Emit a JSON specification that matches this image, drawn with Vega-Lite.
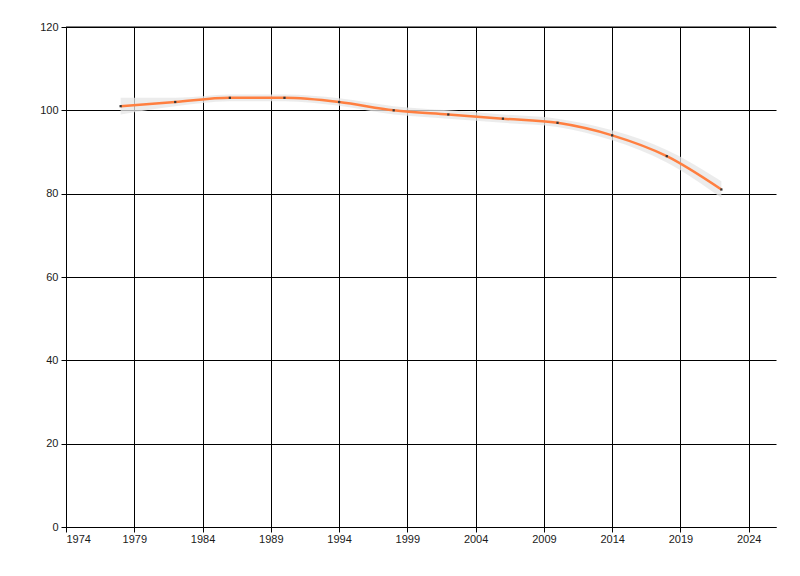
{
  "$schema": "https://vega.github.io/schema/vega-lite/v6.json",
  "autosize": {"type": "none"},
  "width": 710,
  "height": 500,
  "padding": {"left": 66, "top": 27, "right": 24, "bottom": 49},
  "background": "white",
  "config": {
    "view": {"stroke": null},
    "axis": {
      "labelFont": "Liberation Sans",
      "labelFontSize": 11,
      "labelColor": "#1a1a1a",
      "domainColor": "#000000",
      "tickColor": "#000000",
      "gridColor": "#000000",
      "gridOpacity": 1,
      "gridWidth": 1,
      "domainWidth": 1,
      "tickWidth": 1,
      "title": null
    }
  },
  "data": {
    "values": [
      {"year": 1978, "value": 101, "lo": 99, "hi": 103},
      {"year": 1982, "value": 102, "lo": 101, "hi": 103},
      {"year": 1986, "value": 103, "lo": 102.2, "hi": 103.8},
      {"year": 1990, "value": 103, "lo": 102.2, "hi": 103.8},
      {"year": 1994, "value": 102, "lo": 101.1, "hi": 102.9},
      {"year": 1998, "value": 100, "lo": 99, "hi": 101},
      {"year": 2002, "value": 99, "lo": 98, "hi": 100},
      {"year": 2006, "value": 98, "lo": 97, "hi": 99},
      {"year": 2010, "value": 97, "lo": 96, "hi": 98},
      {"year": 2014, "value": 94, "lo": 92.8, "hi": 95.2},
      {"year": 2018, "value": 89, "lo": 87.5, "hi": 90.5},
      {"year": 2022, "value": 81, "lo": 79, "hi": 83}
    ]
  },
  "encoding": {
    "x": {
      "field": "year",
      "type": "quantitative",
      "scale": {"domain": [1974, 2026], "nice": false, "zero": false},
      "axis": {
        "values": [1974, 1979, 1984, 1989, 1994, 1999, 2004, 2009, 2014, 2019, 2024],
        "format": "d",
        "tickSize": 5,
        "labelPadding": 1,
        "grid": true
      }
    }
  },
  "layer": [
    {
      "mark": {"type": "rule", "color": "#000000", "strokeWidth": 1},
      "data": {"values": [{"v": 120}]},
      "encoding": {"y": {"field": "v", "type": "quantitative", "scale": {"domain": [0, 120]}}, "x": null}
    },
    {
      "mark": {"type": "area", "interpolate": "monotone", "color": "#e6e6e6", "opacity": 0.75},
      "encoding": {
        "y": {
          "field": "lo",
          "type": "quantitative",
          "scale": {"domain": [0, 120], "nice": false},
          "axis": {
            "values": [0, 20, 40, 60, 80, 100, 120],
            "tickSize": 5,
            "labelPadding": 3,
            "grid": true
          }
        },
        "y2": {"field": "hi"}
      }
    },
    {
      "mark": {"type": "line", "interpolate": "monotone", "color": "#ff7f40", "strokeWidth": 2.5},
      "encoding": {"y": {"field": "value", "type": "quantitative"}}
    },
    {
      "mark": {"type": "square", "color": "#333333", "size": 5, "opacity": 1, "filled": true},
      "encoding": {"y": {"field": "value", "type": "quantitative"}}
    }
  ]
}
